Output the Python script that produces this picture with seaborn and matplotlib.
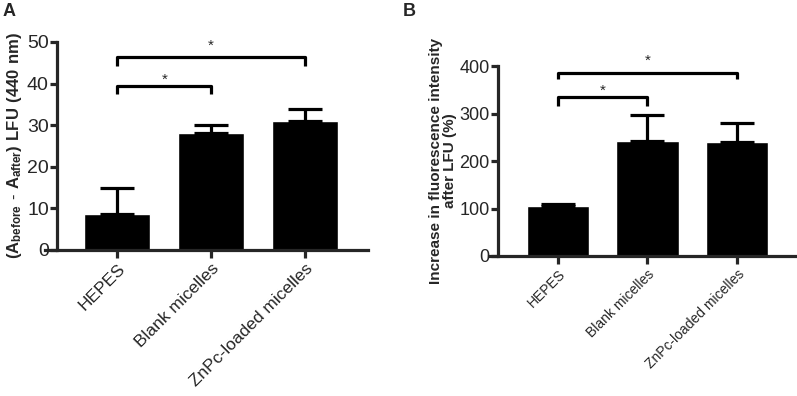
import numpy as np
import pandas as pd
import matplotlib
matplotlib.use("Agg")
import matplotlib.pyplot as plt
import seaborn as sns

sns.set_style("ticks")
plt.rcParams['font.family'] = ['Liberation Sans', 'DejaVu Sans']
plt.rcParams['mathtext.fontset'] = 'custom'
plt.rcParams['mathtext.bf'] = 'Liberation Sans:bold'
plt.rcParams['mathtext.rm'] = 'Liberation Sans'

groups = ["HEPES", "Blank micelles", "ZnPc-loaded micelles"]

# panel A: absorbance drop
a_mean = [8.6, 28.1, 31.1]
a_sd = [6.2, 1.9, 2.9]
# panel B: fluorescence increase
b_mean = [106, 242, 241]
b_sd = [4, 54, 40]

# significance brackets: (from, to, height, leg drop, star offset)
a_brackets = [(0, 1, 39.4, 2.0, 1.6), (0, 2, 46.4, 2.2, 2.6)]
b_brackets = [(0, 1, 335, 20, 12), (0, 2, 385, 13, 25)]

LW = 2.3


def draw_panel(ax, means, sds, brackets, ylim, yticks, spine_x, xlim, tick_fs, xtick_fs):
    df = pd.DataFrame({"group": groups, "value": means})
    sns.barplot(data=df, x="group", y="value", color="black", width=0.7,
                errorbar=None, ax=ax, saturation=1)
    ax.errorbar(range(len(means)), means, yerr=[np.zeros(len(sds)), sds],
                fmt="none", ecolor="black", elinewidth=LW, capsize=12, capthick=LW)
    for i, j, h, drop, s in brackets:
        ax.plot([i, i, j, j], [h - drop, h, h, h - drop], color="black", lw=LW,
                solid_capstyle="butt", clip_on=False)
        ax.text((i + j) / 2, h + s, "*", ha="center", va="center", fontsize=11)
    ax.set_ylim(*ylim)
    ax.set_yticks(yticks)
    ax.set_xlim(*xlim)
    sns.despine(ax=ax)
    ax.spines["left"].set_position(("data", spine_x))
    ax.spines["bottom"].set_bounds(*xlim)
    for sp in ["left", "bottom"]:
        ax.spines[sp].set_linewidth(LW)
    ax.tick_params(axis="y", width=LW, length=5, labelsize=tick_fs, pad=1)
    ax.tick_params(axis="x", width=LW, length=6, labelsize=xtick_fs, pad=2)
    plt.setp(ax.get_xticklabels(), rotation=45, ha="right", rotation_mode="anchor")
    ax.set_xlabel("")


fig = plt.figure(figsize=(7.97, 3.96), dpi=100)
ax1 = fig.add_axes([45 / 797, 1 - 250 / 396, 323 / 797, 208 / 396])
ax2 = fig.add_axes([489 / 797, 1 - 256 / 396, 308 / 797, 190 / 396])

draw_panel(ax1, a_mean, a_sd, a_brackets, (0, 50), [0, 10, 20, 30, 40, 50],
           -0.64, (-0.77, 2.67), 14, 12.5)
ax1.set_ylabel(r"$\mathbf{(A_{before}\ \text{-}\ A_{after})\ LFU\ (440\ nm)}$",
               fontsize=12, labelpad=2)

draw_panel(ax2, b_mean, b_sd, b_brackets, (0, 400), [0, 100, 200, 300, 400],
           -0.67, (-0.77, 2.67), 13, 10)
ax2.set_ylabel("Increase in fluorescence intensity\nafter LFU (%)",
               fontsize=11, fontweight="bold", labelpad=2, linespacing=1.0)

fig.text(3 / 797, 1 - 11 / 396, "A", fontsize=13, fontweight="bold", va="center")
fig.text(403 / 797, 1 - 11 / 396, "B", fontsize=13, fontweight="bold", va="center")

fig.savefig("out.png", dpi=100)
